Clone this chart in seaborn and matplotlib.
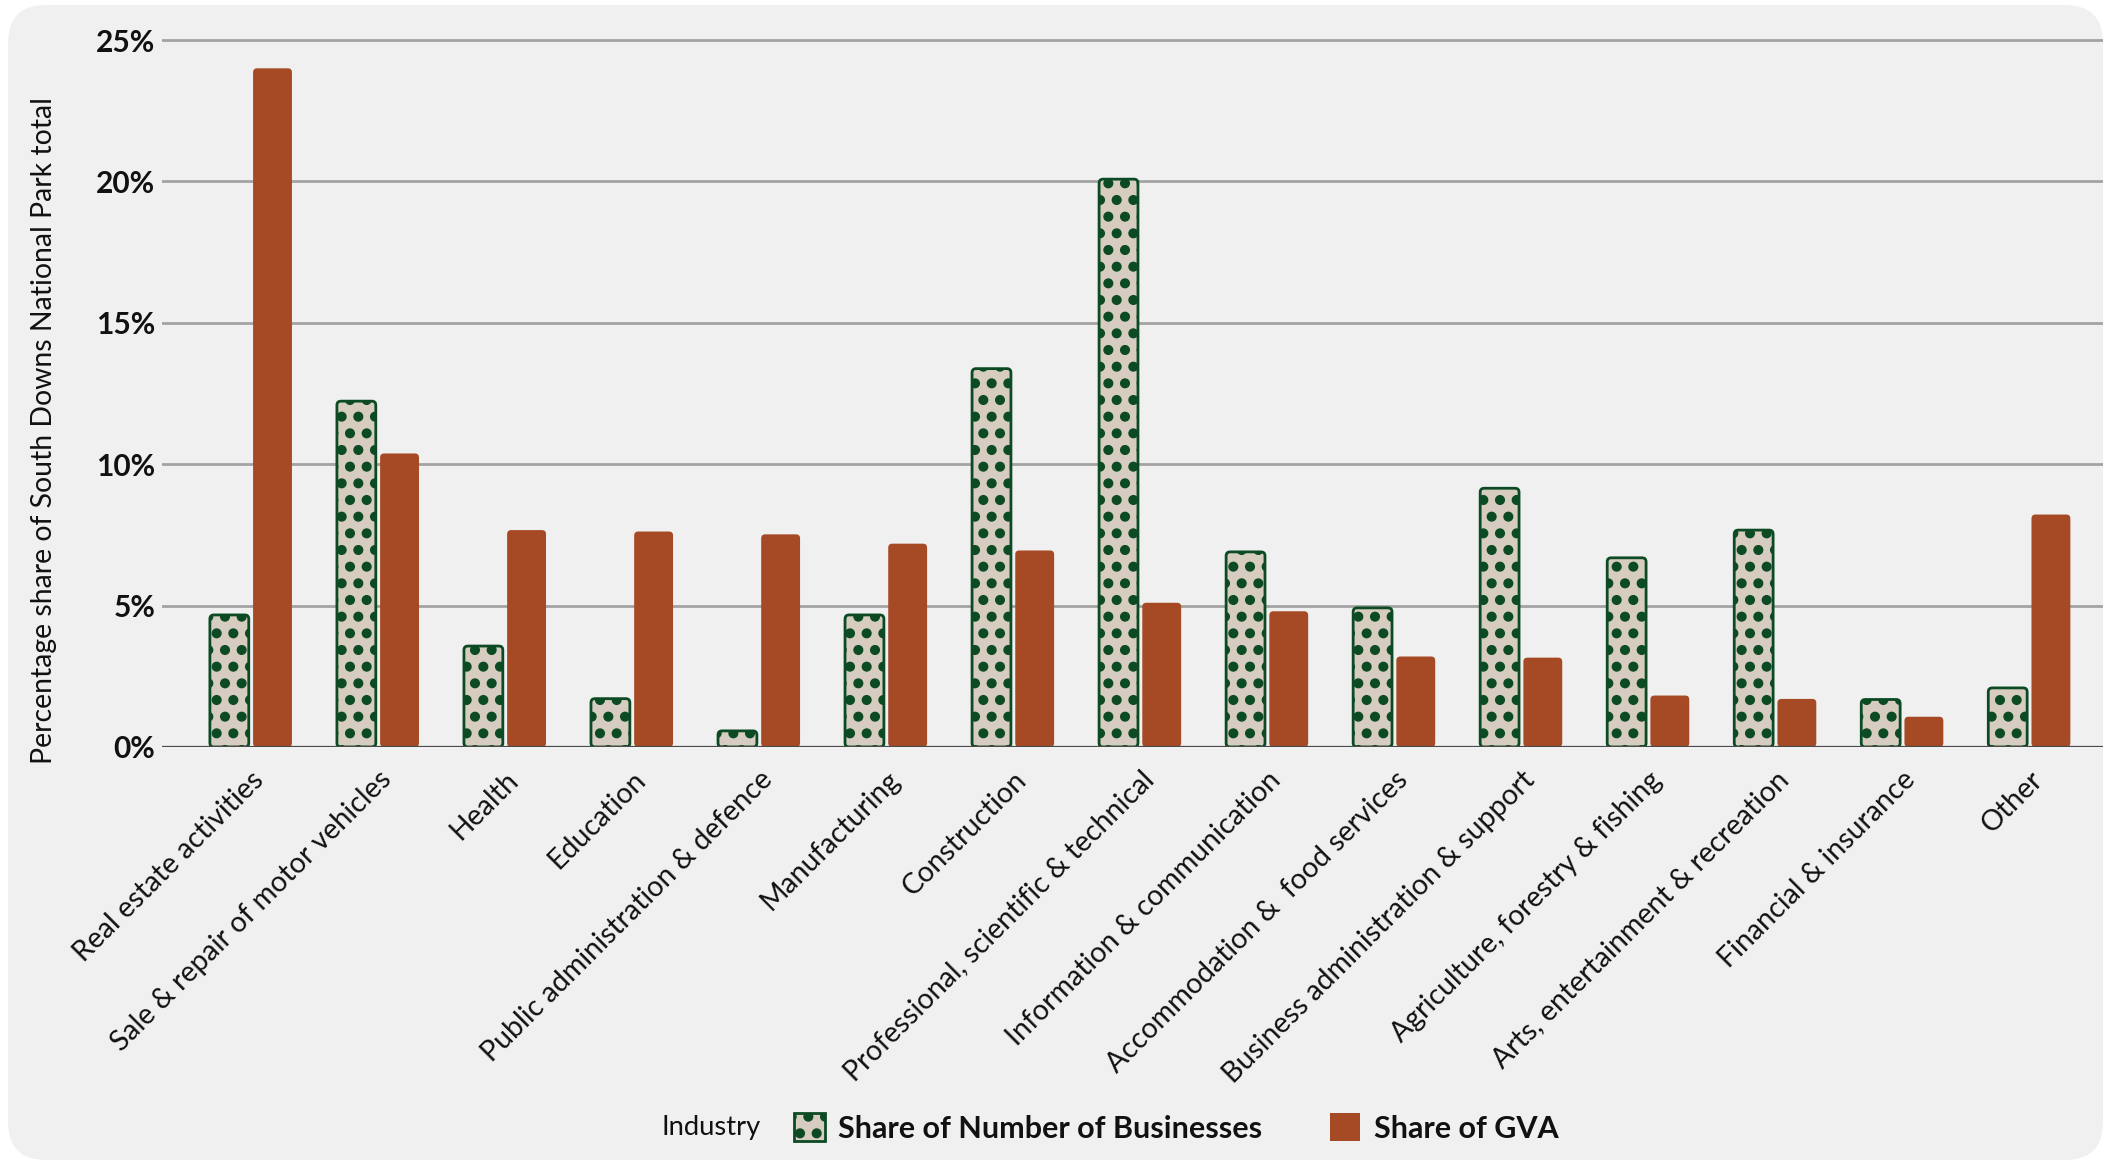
import numpy as np
import pandas as pd
import seaborn as sns
import matplotlib
matplotlib.use("Agg")
import matplotlib.pyplot as plt
import matplotlib.hatch as mhatch
from matplotlib.patches import FancyBboxPatch, Patch, BoxStyle
from matplotlib.ticker import FuncFormatter

# Industry shares (% of South Downs National Park total)
industries = [
    "Real estate activities",
    "Sale & repair of motor vehicles",
    "Health",
    "Education",
    "Public administration & defence",
    "Manufacturing",
    "Construction",
    "Professional, scientific & technical",
    "Information & communication",
    "Accommodation &  food services",
    "Business administration & support",
    "Agriculture, forestry & fishing",
    "Arts, entertainment & recreation",
    "Financial & insurance",
    "Other",
]
share_businesses = [4.67, 12.23, 3.57, 1.71, 0.57, 4.67, 13.38, 20.08, 6.90, 4.92,
                    9.15, 6.69, 7.67, 1.68, 2.09]
share_gva = [24.0, 10.38, 7.67, 7.62, 7.52, 7.19, 6.95, 5.10, 4.80, 3.20,
             3.16, 1.82, 1.70, 1.07, 8.22]
series_names = ["Share of Number of Businesses", "Share of GVA"]
y_ticks = [0, 5, 10, 15, 20, 25]

CARD = "#f0f0f0"
BEIGE = "#d6ccc0"
GREEN = "#0c4a24"
RUST = "#a54a24"
GRID = "#a3a3a3"
TEXT = "#111111"

df = pd.DataFrame({
    "Industry": industries * 2,
    "Series": [series_names[0]] * len(industries) + [series_names[1]] * len(industries),
    "Share": share_businesses + share_gva,
})

sns.set_theme(style="white")
plt.rcParams["font.family"] = ["Lato", "DejaVu Sans"]
plt.rcParams["hatch.linewidth"] = 1.0
plt.rcParams["hatch.color"] = GREEN
# larger filled dots for the "." hatch
mhatch.SmallFilledCircles.size = 0.26

W, H = 2111, 1162
fig = plt.figure(figsize=(W / 100, H / 100), dpi=100, facecolor="white")

# rounded light-grey card behind everything
card = FancyBboxPatch((8 / W, 2 / H), (2103 - 8) / W, (1157 - 2) / H,
                      boxstyle="round,pad=0,rounding_size=0.018",
                      transform=fig.transFigure, facecolor=CARD, edgecolor="none",
                      mutation_aspect=W / H, zorder=-10)
fig.patches.append(card)

top_px = 37.2
ax = fig.add_axes([162 / W, 1 - 747 / H, (2103 - 162) / W, (747 - top_px) / H])
ax.set_facecolor("none")

sns.barplot(data=df, x="Industry", y="Share", hue="Series", order=industries,
            hue_order=series_names, palette=[BEIGE, RUST], width=0.68, gap=0.1,
            ax=ax, legend=False, saturation=1)

ax.set_xlim(-0.70, 14.58)
ax.set_ylim(0, 25.1)

# swap plain rectangles for slightly rounded bars
px_x = (2103 - 162) / (14.58 + 0.70)
px_y = (747 - top_px) / 25.1
r_px = 4.0
for ci, cont in enumerate(ax.containers):
    for rect in cont:
        x, y = rect.get_x(), rect.get_y()
        w, h = rect.get_width(), rect.get_height()
        rect.set_visible(False)
        if ci == 0:
            kw = dict(facecolor=BEIGE, edgecolor=GREEN, linewidth=2.0, hatch=".")
        else:
            kw = dict(facecolor=RUST, edgecolor="none", linewidth=0)
        fb = FancyBboxPatch((x, y), w, h,
                            boxstyle=BoxStyle.Round(pad=0, rounding_size=r_px / px_x),
                            mutation_aspect=px_x / px_y, zorder=3, **kw)
        ax.add_patch(fb)

ax.set_yticks(y_ticks)
ax.yaxis.set_major_formatter(FuncFormatter(lambda v, p: f"{v:.0f}%"))
ax.yaxis.grid(True, color=GRID, linewidth=2.0)
ax.set_axisbelow(True)
ax.axhline(0, color="#4a4a4a", linewidth=1.6, zorder=4)
for s in ax.spines.values():
    s.set_visible(False)

ax.tick_params(axis="y", length=0, pad=5, labelsize=21.5, labelcolor=TEXT)
for t in ax.get_yticklabels():
    t.set_fontweight("bold")
ax.tick_params(axis="x", length=0, pad=14, labelsize=20.5, labelcolor=TEXT)
plt.setp(ax.get_xticklabels(), rotation=45, ha="right", va="top", rotation_mode="anchor")
ax.set_xlabel("")
ax.set_ylabel("")

fig.text(44 / W, 1 - 431 / H, "Percentage share of South Downs National Park total",
         rotation=90, ha="center", va="center", fontsize=20.4, color=TEXT)

# legend along the bottom
fig.text(661 / W, 1 - 1128 / H, "Industry", ha="left", va="center", fontsize=19.7, color=TEXT)
handles = [
    Patch(facecolor=BEIGE, edgecolor=GREEN, linewidth=2.0, hatch="."),
    Patch(facecolor=RUST, edgecolor="none"),
]
leg = fig.legend(handles, series_names, loc="center left",
                 bbox_to_anchor=(794 / W, 1 - 1128 / H), ncol=2, frameon=False,
                 handlelength=1.0, handleheight=1.0, handletextpad=0.45,
                 columnspacing=2.2, borderpad=0, borderaxespad=0,
                 prop={"size": 22, "weight": "bold"})
for t in leg.get_texts():
    t.set_color(TEXT)

fig.savefig("out.png", dpi=100, facecolor="white")
